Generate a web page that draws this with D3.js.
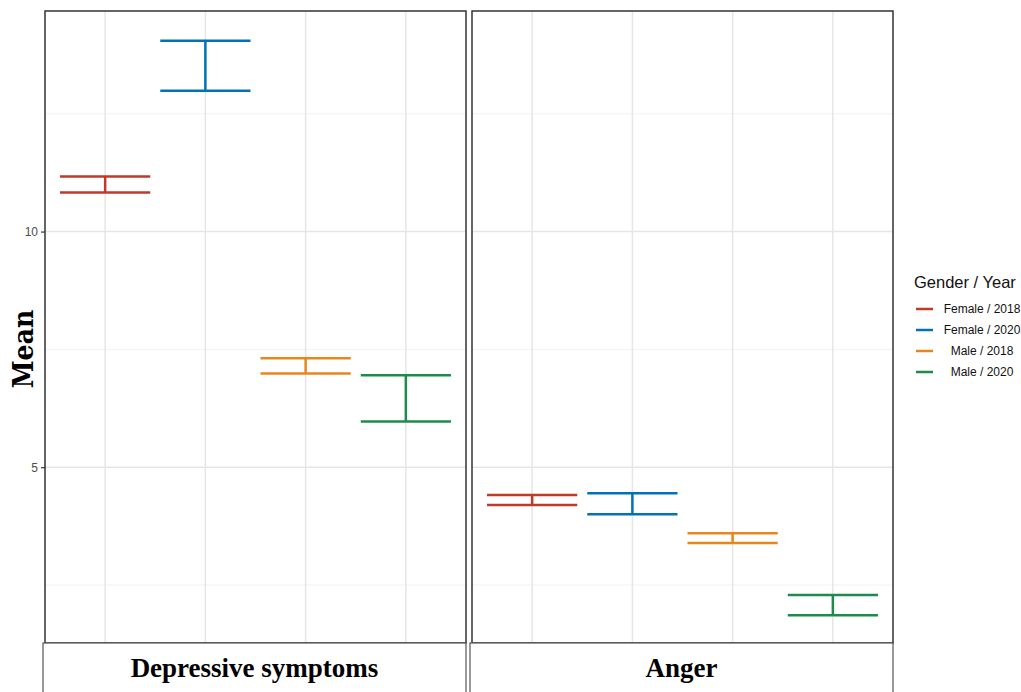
<!DOCTYPE html>
<html><head><meta charset="utf-8">
<script src="https://cdn.jsdelivr.net/npm/d3@7"></script>
<style>body{margin:0;background:#fff}</style>
</head><body>
<svg id="c" width="1021" height="692"></svg>
<script>
const facets = ["Depressive symptoms", "Anger"];
const groups = ["Female / 2018", "Female / 2020", "Male / 2018", "Male / 2020"];
const colors = ["#C0392B", "#0072B5", "#E8861E", "#1E8B4B"];
const lowerDep = [10.83, 12.99, 6.99, 5.97];
const upperDep = [11.17, 14.05, 7.31, 6.95];
const lowerAng = [4.20, 4.00, 3.39, 1.86];
const upperAng = [4.41, 4.45, 3.60, 2.29];
const yTicks = [5, 10];
const yMinor = [2.5, 7.5, 12.5];

(function(){
const svg = d3.select("#c");
const pTop = 11, pBottom = 643;
const panels = [{x0: 45, x1: 466, lo: lowerDep, hi: upperDep}, {x0: 472, x1: 893, lo: lowerAng, hi: upperAng}];
const y = d3.scaleLinear().domain([1.27, 14.68]).range([pBottom, pTop]);

panels.forEach((p, pi) => {
  const x = d3.scalePoint().domain(groups).range([p.x0, p.x1]).padding(0.6);
  const step = x.step();
  const g = svg.append("g");
  g.selectAll(".minor").data(yMinor).join("line")
    .attr("x1", p.x0).attr("x2", p.x1).attr("y1", d => y(d)).attr("y2", d => y(d))
    .attr("stroke", "#f2f2f2").attr("stroke-width", 1);
  g.selectAll(".major").data(yTicks).join("line")
    .attr("x1", p.x0).attr("x2", p.x1).attr("y1", d => y(d)).attr("y2", d => y(d))
    .attr("stroke", "#e6e6e6").attr("stroke-width", 1.5);
  g.selectAll(".vg").data(groups).join("line")
    .attr("x1", d => x(d)).attr("x2", d => x(d)).attr("y1", pTop).attr("y2", pBottom)
    .attr("stroke", "#e6e6e6").attr("stroke-width", 1.5);
  const hw = step * 0.45;
  groups.forEach((gname, i) => {
    const cx = x(gname), c = colors[i];
    const eb = g.append("g").attr("stroke", c).attr("stroke-width", 2.5).attr("fill", "none");
    eb.append("line").attr("x1", cx - hw).attr("x2", cx + hw).attr("y1", y(p.hi[i])).attr("y2", y(p.hi[i]));
    eb.append("line").attr("x1", cx - hw).attr("x2", cx + hw).attr("y1", y(p.lo[i])).attr("y2", y(p.lo[i]));
    eb.append("line").attr("x1", cx).attr("x2", cx).attr("y1", y(p.hi[i])).attr("y2", y(p.lo[i]));
  });
  g.append("rect").attr("x", p.x0).attr("y", pTop).attr("width", p.x1 - p.x0).attr("height", pBottom - pTop)
    .attr("fill", "none").attr("stroke", "#333").attr("stroke-width", 1.5);
  svg.append("rect").attr("x", p.x0 - 2).attr("y", pBottom).attr("width", p.x1 - p.x0 + 2).attr("height", 60)
    .attr("fill", "#fff").attr("stroke", "#555").attr("stroke-width", 1.2);
  svg.append("text").attr("x", (p.x0 + p.x1) / 2 - 1).attr("y", 677).attr("text-anchor", "middle")
    .attr("font-family", "Liberation Serif, serif").attr("font-weight", "bold").attr("font-size", 27)
    .text(facets[pi]);
});

const ax = svg.append("g").attr("transform", `translate(45,0)`)
  .call(d3.axisLeft(y).tickValues(yTicks).tickSize(4).tickPadding(3));
ax.select(".domain").remove();
ax.selectAll("line").attr("stroke", "#333").attr("stroke-width", 1.2);
ax.selectAll("text").attr("font-family", "Liberation Sans, Arial, sans-serif").attr("font-size", 12).attr("fill", "#4d4d4d");

svg.append("text").attr("transform", `translate(33,${(pTop + pBottom) / 2 + 22}) rotate(-90)`)
  .attr("text-anchor", "middle").attr("font-family", "DejaVu Serif Condensed, DejaVu Serif, serif").attr("font-weight", "bold")
  .attr("font-stretch", "condensed").attr("font-size", 28).text("Mean");

const lg = svg.append("g");
lg.append("text").attr("x", 914).attr("y", 288).attr("font-family", "Liberation Sans, Arial, sans-serif")
  .attr("font-size", 16.5).attr("fill", "#111").text("Gender / Year");
groups.forEach((gname, i) => {
  const yy = 309 + i * 21;
  lg.append("line").attr("x1", 916).attr("x2", 933).attr("y1", yy).attr("y2", yy)
    .attr("stroke", colors[i]).attr("stroke-width", 2.5);
  lg.append("text").attr("x", 982).attr("y", yy + 4).attr("text-anchor", "middle")
    .attr("font-family", "Liberation Sans, Arial, sans-serif").attr("font-size", 12).attr("fill", "#111").text(gname);
});
})();
</script>
</body></html>
